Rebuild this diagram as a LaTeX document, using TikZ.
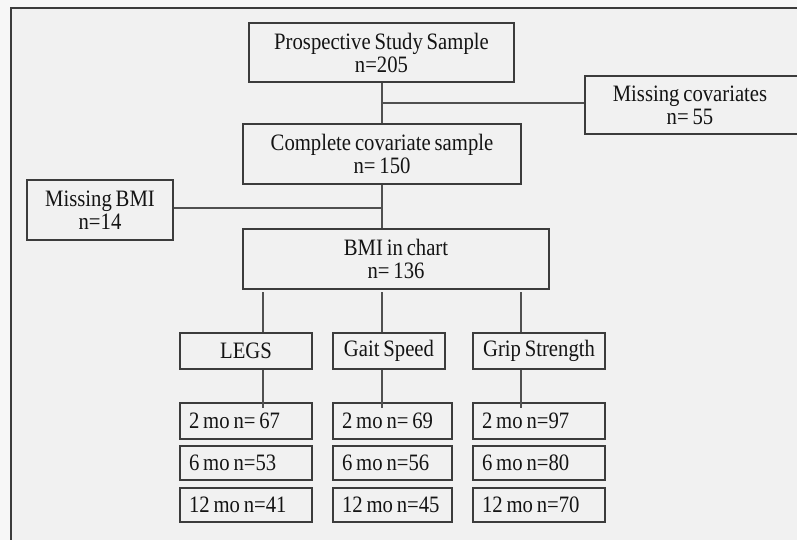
\documentclass[tikz,border=0pt]{standalone}
\usepackage{fontspec}
\setmainfont[FakeStretch=0.88,WordSpace=0.75]{Liberation Serif}
\usetikzlibrary{calc}
\definecolor{bgc}{HTML}{F1F1F1}
\definecolor{edge}{HTML}{3C3C3C}
\definecolor{txt}{HTML}{141414}
\newcommand{\lcell}[2]{\makebox[#1][l]{#2}}
\begin{document}
\begin{tikzpicture}[x=1pt,y=-1pt,
  box/.style={draw=edge,line width=1.4pt,fill=bgc,text=txt,align=center,inner sep=0pt,
    font=\fontsize{23.5}{23}\selectfont},
  cell/.style 2 args={box,minimum width=#1,minimum height=#2},
  conn/.style={draw=edge!90,line width=1.1pt}]
\useasboundingbox (0,0) rectangle (797,540);
\fill[white!97!black] (0,0) rectangle (797,540);
\fill[bgc] (11,8) rectangle (797,540);
\draw[edge,line width=2pt] (11,540) -- (11,8) -- (797,8);

\node[box,minimum width=265pt,minimum height=59pt] (pss) at (381.5,52.5) {Prospective Study Sample\\n=205};
\node[box,minimum width=220pt,minimum height=58pt] (mc) at (695,105) {\hspace*{-10pt}Missing covariates\\\hspace*{-10pt}n= 55};
\node[box,minimum width=278pt,minimum height=60pt] (ccs) at (382,154) {Complete covariate sample\\n= 150};
\node[box,minimum width=146pt,minimum height=60pt] (mbmi) at (100,210) {Missing BMI\\n=14};
\node[box,minimum width=306pt,minimum height=60pt] (bmi) at (396,259) {BMI in chart\\n= 136};

\node[box,minimum width=132pt,minimum height=36pt] (legs) at (246,351) {LEGS};
\node[box,minimum width=112pt,minimum height=36pt] (gait) at (389,351) {Gait Speed};
\node[box,minimum width=132pt,minimum height=36pt] (grip) at (539,351) {Grip Strength};

\node[cell={132pt}{36pt}] (l2) at (246,421) {\lcell{114pt}{2 mo n= 67}};
\node[cell={132pt}{34pt}] (l6) at (246,463) {\lcell{114pt}{6 mo n=53}};
\node[cell={132pt}{34pt}] (l12) at (246,505) {\lcell{114pt}{12 mo n=41}};
\node[cell={119pt}{36pt}] (g2) at (392.5,421) {\lcell{101pt}{2 mo n= 69}};
\node[cell={119pt}{34pt}] (g6) at (392.5,463) {\lcell{101pt}{6 mo n=56}};
\node[cell={119pt}{34pt}] (g12) at (392.5,505) {\lcell{101pt}{12 mo n=45}};
\node[cell={132pt}{36pt}] (s2) at (539,421) {\lcell{114pt}{2 mo n=97}};
\node[cell={132pt}{34pt}] (s6) at (539,463) {\lcell{114pt}{6 mo n=80}};
\node[cell={132pt}{34pt}] (s12) at (539,505) {\lcell{114pt}{12 mo n=70}};

% connectors
\coordinate (t1) at (382,103);
\draw[conn] (pss.south -| t1) -- (ccs.north -| t1);
\draw[conn] (t1) -- (t1 -| mc.west);
\coordinate (t2) at (382,208);
\draw[conn] (ccs.south -| t2) -- (bmi.north -| t2);
\draw[conn] (mbmi.east |- t2) -- (t2);

\coordinate (c1) at (263,292);
\coordinate (c2) at (382,292);
\coordinate (c3) at (521,292);
\draw[conn] (c1) -- (c1 |- legs.north);
\draw[conn] (c2) -- (c2 |- gait.north);
\draw[conn] (c3) -- (c3 |- grip.north);
\draw[conn] (c1 |- legs.south) -- ($(c1 |- l2.north)+(0,6)$);
\draw[conn] (c2 |- gait.south) -- ($(c2 |- g2.north)+(0,6)$);
\draw[conn] (c3 |- grip.south) -- ($(c3 |- s2.north)+(0,6)$);
\end{tikzpicture}
\end{document}
